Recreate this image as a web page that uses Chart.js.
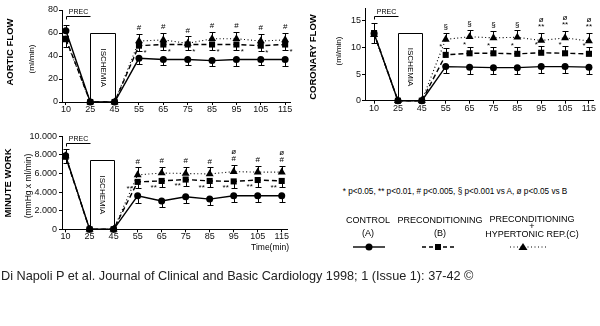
<!DOCTYPE html>
<html>
<head>
<meta charset="utf-8">
<script src="https://cdn.jsdelivr.net/npm/chart.js@4.4.0/dist/chart.umd.min.js"></script>
<style>
  body { margin: 0; width: 600px; height: 326px; position: relative; overflow: hidden; background: #fff;
         font-family: Arial, "Liberation Sans", sans-serif; color: #000; }
  canvas { position: absolute; }
  .t { position: absolute; white-space: nowrap; transform: translate(-50%, -50%); line-height: 1; color: #000; }
  .rot { transform: translate(-50%, -50%) rotate(-90deg); }
  .title { font-weight: bold; font-size: 9.5px; }
  .unit { font-size: 8px; }
  .leg { font-size: 9px; }
  #caption { position: absolute; left: 1px; top: 269px; font-size: 12.7px; color: #222; white-space: nowrap; }
</style>
</head>
<body>
<canvas id="aortic" width="300" height="125" style="left:0;top:0"></canvas>
<canvas id="coronary" width="300" height="125" style="left:300px;top:0"></canvas>
<canvas id="work" width="300" height="125" style="left:0;top:128px"></canvas>

<div class="t rot title" style="left:10px;top:52px">AORTIC FLOW</div>
<div class="t rot unit" style="left:32px;top:59px">(ml/min)</div>
<div class="t rot title" style="left:313px;top:57px">CORONARY FLOW</div>
<div class="t rot unit" style="left:339px;top:51px">(ml/min)</div>
<div class="t rot title" style="left:8px;top:183px">MINUTE WORK</div>
<div class="t rot unit" style="left:28px;top:186px;font-size:8.5px">(mmHg x ml/min)</div>
<div class="t" style="left:270px;top:247px;font-size:8.5px">Time(min)</div>

<div class="t" style="left:455px;top:192px;font-size:8.2px">* p&lt;0.05, ** p&lt;0.01, # p&lt;0.005, § p&lt;0.001 vs A, ø p&lt;0.05 vs B</div>
<div class="t leg" style="left:368px;top:220px">CONTROL</div>
<div class="t leg" style="left:368px;top:233px">(A)</div>
<div class="t leg" style="left:440px;top:220px">PRECONDITIONING</div>
<div class="t leg" style="left:440px;top:233px">(B)</div>
<div class="t leg" style="left:532px;top:219px">PRECONDITIONING</div>
<div class="t leg" style="left:532px;top:226px">+</div>
<div class="t leg" style="left:532px;top:234px">HYPERTONIC REP.(C)</div>
<svg width="600" height="326" style="position:absolute;left:0;top:0;pointer-events:none">
  <line x1="353" y1="247" x2="385" y2="247" stroke="#000" stroke-width="1.4"/>
  <circle cx="369" cy="247" r="3.5" fill="#000"/>
  <line x1="422" y1="247" x2="455" y2="247" stroke="#000" stroke-width="1.4" stroke-dasharray="4,3"/>
  <rect x="435" y="244" width="6" height="6" fill="#000"/>
  <line x1="510" y1="247" x2="547" y2="247" stroke="#000" stroke-width="1" stroke-dasharray="1,2.5"/>
  <polygon points="523,243 527.5,250 518.5,250" fill="#000"/>
</svg>

<div id="caption">Di Napoli P et al. Journal of Clinical and Basic Cardiology 1998; 1 (Issue 1): 37-42 ©</div>

<script>
const timeLabels = ['10', '25', '45', '55', '65', '75', '85', '95', '105', '115']

// aortic flow (ml/min)
const aorticA = [62, 0, 0, 38, 37, 37, 36, 37, 37, 37]
const aorticB = [55, 0, 0, 49, 50, 50, 50, 50, 49, 50]
const aorticC = [54, 0, 0, 53, 54, 51, 55, 55, 53, 54]
const aorticErrA = [5, 0, 0, 5, 5, 5, 5, 5.5, 5, 5.5]
const aorticErrB = [7, 0, 0, 4.5, 4.5, 4.5, 4.5, 4.5, 4.5, 4.5]
const aorticErrC = [0, 0, 0, 6, 6, 6, 6, 6, 6, 6]
const aorticMarksB = ['', '', '', '*', '*', '*', '*', '*', '*', '*']
const aorticMarksC = ['', '', '', '#', '#', '#', '#', '#', '#', '#']

// coronary flow (ml/min)
const coronaryA = [12.6, 0, 0, 6.4, 6.3, 6.2, 6.2, 6.4, 6.4, 6.3]
const coronaryB = [12.7, 0, 0, 8.6, 8.9, 8.9, 8.8, 9.0, 8.9, 8.8]
const coronaryC = [12.4, 0, 0, 11.5, 12.0, 11.8, 11.9, 11.3, 11.8, 11.2]
const coronaryErrA = [1.9, 0, 0, 1.2, 1.2, 1.2, 1.2, 1.2, 1.2, 1.3]
const coronaryErrB = [1.9, 0, 0, 1.2, 1.2, 1.1, 1.2, 1.2, 1.3, 1.2]
const coronaryErrC = [0, 0, 0, 1.3, 1.3, 1.3, 1.3, 1.4, 1.3, 1.5]
const coronaryMarksB = ['', '', '', '*', '*', '*', '*', '*', '*', '*']
const coronaryMarksC = ['', '', '', '§', '§', '§', '§', 'ø\n**', 'ø\n**', 'ø\n**']

// minute work (mmHg x ml/min)
const workA = [7900, 0, 0, 3600, 3050, 3500, 3250, 3600, 3600, 3600]
const workB = [7800, 0, 0, 5100, 5200, 5350, 5200, 5150, 5300, 5200]
const workC = [7900, 0, 0, 5850, 6050, 6000, 5950, 6200, 6150, 6150]
const workErrA = [700, 0, 0, 750, 650, 700, 650, 700, 700, 700]
const workErrB = [700, 0, 0, 700, 700, 700, 700, 700, 700, 700]
const workErrC = [0, 0, 0, 800, 700, 700, 700, 700, 700, 700]
const workMarksB = ['', '', '', '**', '**', '**', '**', '**', '**', '**']
const workMarksC = ['', '', '', '#', '#', '#', '#', 'ø\n#', '#', 'ø\n#']

const tickFont = { family: 'Arial, sans-serif', size: 9 }
const seriesStyles = [
  { pointStyle: 'circle', pointRadius: 3.5, borderDash: [], borderWidth: 1.4 },
  { pointStyle: 'rect', pointRadius: 4.3, borderDash: [5, 3], borderWidth: 1.4 },
  { pointStyle: 'triangle', pointRadius: 4.6, borderDash: [1, 2.5], borderWidth: 1.1 }
]
// error bar direction at the first point
const firstDir = [1, -1, 1]

const panelExtras = {
  id: 'panelExtras',
  beforeDatasetsDraw(chart, args, opts) {
    const { ctx, scales: { x, y } } = chart
    ctx.save()
    ctx.strokeStyle = '#000'
    ctx.fillStyle = '#000'
    ctx.lineWidth = 1

    // ischemia box
    const bx0 = Math.round(x.getPixelForValue(1)) + 0.5
    const bx1 = Math.round(x.getPixelForValue(2)) + 0.5
    const by0 = Math.round(y.getPixelForValue(opts.boxTop)) + 0.5
    const by1 = y.getPixelForValue(0)
    ctx.fillStyle = '#fff'
    ctx.fillRect(bx0, by0, bx1 - bx0, by1 - by0)
    ctx.beginPath()
    ctx.moveTo(bx0, by1); ctx.lineTo(bx0, by0); ctx.lineTo(bx1, by0); ctx.lineTo(bx1, by1)
    ctx.stroke()
    ctx.fillStyle = '#000'
    ctx.save()
    ctx.translate((bx0 + bx1) / 2, (by0 + by1) / 2)
    ctx.rotate(Math.PI / 2)
    ctx.font = '8px Arial'
    ctx.textAlign = 'center'
    ctx.textBaseline = 'middle'
    ctx.fillText('ISCHEMIA', 0, 0)
    ctx.restore()

    // PREC bracket
    const px0 = Math.round(x.getPixelForValue(0)) + 0.5
    const px1 = Math.round(x.getPixelForValue(1)) + 0.5
    const py = Math.round(y.getPixelForValue(opts.precY)) + 0.5
    ctx.beginPath()
    ctx.moveTo(px0, py + 3); ctx.lineTo(px0, py); ctx.lineTo(px1, py)
    ctx.stroke()
    ctx.font = '7px Arial'
    ctx.textAlign = 'center'
    ctx.textBaseline = 'bottom'
    ctx.fillText('PREC', (px0 + px1) / 2, py - 0.5)

    // error bars
    chart.data.datasets.forEach((ds, di) => {
      const errs = opts.errors[di]
      ds.data.forEach((p, i) => {
        if (!errs[i]) return
        const dir = i === 0 ? firstDir[di] : opts.dirs[di]
        const xx = Math.round(x.getPixelForValue(p.x)) + 0.5
        const y0 = y.getPixelForValue(p.y)
        const y1 = Math.round(y.getPixelForValue(p.y + dir * errs[i])) + 0.5
        ctx.beginPath()
        ctx.moveTo(xx, y0); ctx.lineTo(xx, y1)
        ctx.moveTo(xx - 3, y1); ctx.lineTo(xx + 3, y1)
        ctx.stroke()
      })
    })
    ctx.restore()
  },
  afterDatasetsDraw(chart, args, opts) {
    const { ctx, scales: { x, y } } = chart
    ctx.save()
    ctx.fillStyle = '#000'
    ctx.font = '8px Arial'
    ctx.textAlign = 'center'
    ctx.textBaseline = 'middle'
    opts.marks.forEach(m => {
      const ds = chart.data.datasets[m.series]
      const errs = opts.errors[m.series]
      m.text.forEach((txt, i) => {
        if (!txt) return
        const p = ds.data[i]
        const capY = y.getPixelForValue(p.y + m.side * errs[i])
        const xx = x.getPixelForValue(p.x) + m.dx
        txt.split('\n').reverse().forEach((line, li) => {
          ctx.fillText(line, xx, capY + m.dy - li * 7)
        })
      })
    })
    ctx.restore()
  }
}

function makePanel (id, series, errors, marks, cfg) {
  new Chart(document.getElementById(id), {
    type: 'line',
    data: {
      datasets: series.map((vals, di) => ({
        data: vals.map((v, i) => ({ x: i, y: v })),
        borderColor: '#000',
        backgroundColor: '#000',
        pointBackgroundColor: '#000',
        pointBorderWidth: 0,
        pointHoverRadius: seriesStyles[di].pointRadius,
        tension: 0,
        clip: false,
        ...seriesStyles[di]
      }))
    },
    options: {
      responsive: false,
      animation: false,
      devicePixelRatio: 1,
      layout: { padding: { top: cfg.top, right: cfg.right, left: 0, bottom: 0 } },
      plugins: {
        legend: { display: false },
        tooltip: { enabled: false },
        panelExtras: { errors, dirs: cfg.dirs, marks, boxTop: cfg.boxTop, precY: cfg.precY }
      },
      scales: {
        x: {
          type: 'linear',
          min: cfg.xMin,
          max: cfg.xMax,
          afterBuildTicks: s => { s.ticks = timeLabels.map((_, i) => ({ value: i })) },
          afterFit: s => { s.height = cfg.xH },
          ticks: { callback: v => timeLabels[v], font: tickFont, color: '#111', padding: -1, maxRotation: 0, autoSkip: false },
          grid: { drawOnChartArea: false, tickLength: 3, color: '#000' },
          border: { color: '#000', width: 1 }
        },
        y: {
          min: 0,
          max: cfg.yMax,
          afterBuildTicks: s => { s.ticks = s.ticks.filter(t => Math.abs(t.value / cfg.step - Math.round(t.value / cfg.step)) < 1e-6) },
          afterFit: s => { s.width = cfg.yW },
          ticks: { stepSize: cfg.step, callback: cfg.fmt, font: tickFont, color: '#111', padding: cfg.yPad },
          grid: { drawOnChartArea: false, tickLength: 3, color: '#000' },
          border: { color: '#000', width: 1 }
        }
      }
    },
    plugins: [panelExtras]
  })
}

makePanel('aortic', [aorticA, aorticB, aorticC], [aorticErrA, aorticErrB, aorticErrC],
  [{ series: 2, text: aorticMarksC, side: 1, dx: 0, dy: -6 },
   { series: 1, text: aorticMarksB, side: -1, dx: 6, dy: 2 }],
  { top: 10, right: 10, yW: 62, xH: 23, xMin: -0.16, xMax: 9.2, yMax: 80, step: 20, yPad: 1,
    fmt: v => v, dirs: [-1, -1, 1], boxTop: 60, precY: 74.5 })

makePanel('coronary', [coronaryA, coronaryB, coronaryC], [coronaryErrA, coronaryErrB, coronaryErrC],
  [{ series: 2, text: coronaryMarksC, side: 1, dx: 0, dy: -6 },
   { series: 1, text: coronaryMarksB, side: 1, dx: -5, dy: -2 }],
  { top: 8, right: 7, yW: 65, xH: 24.3, xMin: -0.38, xMax: 9.17, yMax: 17.4, step: 5, yPad: 1,
    fmt: v => v, dirs: [-1, 1, 1], boxTop: 12.8, precY: 15.9 })

makePanel('work', [workA, workB, workC], [workErrA, workErrB, workErrC],
  [{ series: 2, text: workMarksC, side: 1, dx: 0, dy: -6 },
   { series: 1, text: workMarksB, side: -1, dx: -8, dy: 0 }],
  { top: 8.3, right: 13, yW: 62, xH: 23.7, xMin: -0.15, xMax: 9.22, yMax: 10000, step: 2000, yPad: 2,
    fmt: v => v === 0 ? '0' : (v / 1000).toFixed(3), dirs: [-1, -1, 1], boxTop: 7400, precY: 9300 })
</script>
</body>
</html>
